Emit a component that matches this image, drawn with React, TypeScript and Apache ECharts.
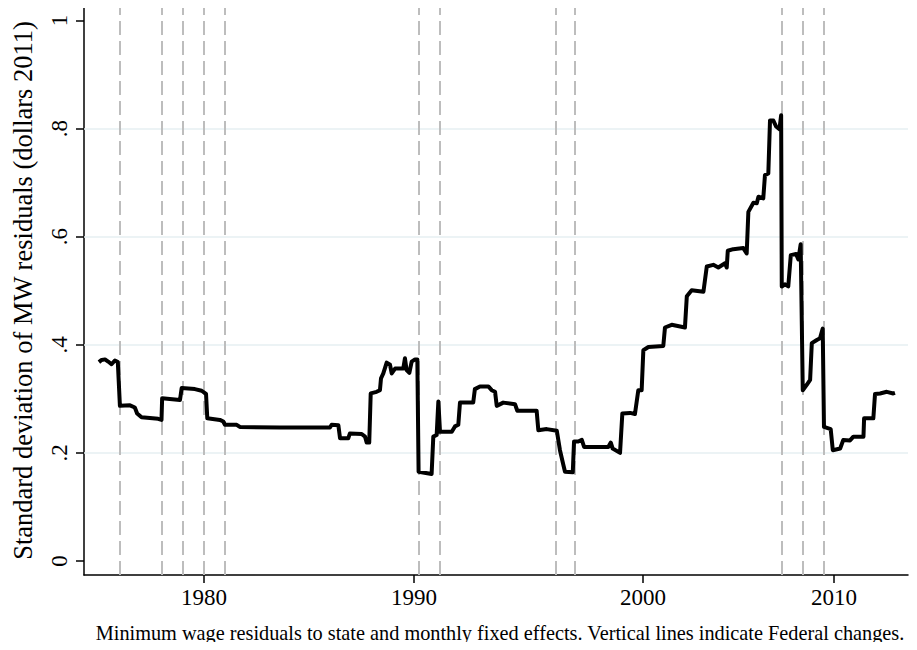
import React, { useEffect, useRef } from "react";
import * as echarts from "echarts";

// Decimal year of each breakpoint of the series
const years: number[] = [
  1975.0, 1975.13, 1975.29, 1975.44, 1975.6, 1975.76, 1975.9, 1976.0, 1976.48, 1976.71,
  1976.82, 1977.03, 1977.82, 1977.98, 1978.01, 1978.86, 1978.94, 1979.57, 1979.89, 1980.1,
  1980.16, 1980.76, 1980.92, 1981.0, 1981.56, 1981.71, 1983.62, 1986.0, 1986.08, 1986.4,
  1986.48, 1986.87, 1986.95, 1987.51, 1987.67, 1987.75, 1987.87, 1987.94, 1988.22, 1988.38,
  1988.43, 1988.54, 1988.7, 1988.86, 1988.94, 1989.1, 1989.49, 1989.57, 1989.65, 1989.78,
  1989.89, 1990.05, 1990.16, 1990.22, 1990.84, 1990.92, 1991.08, 1991.16, 1991.24, 1991.8,
  1991.95, 1992.11, 1992.19, 1992.82, 1992.9, 1993.14, 1993.54, 1993.7, 1993.86, 1993.94,
  1994.25, 1994.81, 1994.92, 1995.84, 1995.92, 1996.32, 1996.8, 1996.95, 1997.11, 1997.19,
  1997.56, 1997.62, 1997.82, 1997.99, 1998.1, 1999.25, 1999.37, 1999.46, 1999.81, 1999.92,
  2000.29, 2000.52, 2000.68, 2000.84, 2000.92, 2001.16, 2001.87, 2001.95, 2002.27, 2002.9,
  2002.99, 2003.22, 2003.78, 2003.94, 2004.25, 2004.49, 2004.81, 2004.89, 2004.94, 2005.2,
  2005.68, 2005.84, 2005.92, 2006.16, 2006.32, 2006.4, 2006.63, 2006.71, 2006.87, 2006.95,
  2007.11, 2007.24, 2007.4, 2007.48, 2007.51, 2007.67, 2007.82, 2007.94, 2008.19, 2008.3,
  2008.41, 2008.51, 2008.7, 2008.86, 2008.94, 2009.18, 2009.33, 2009.46, 2009.52, 2009.84,
  2009.94, 2010.29, 2010.44, 2010.76, 2010.92, 2011.4, 2011.43, 2011.87, 2011.95, 2012.19,
  2012.51, 2012.82, 2012.9,
];

// Standard deviation of MW residuals (dollars 2011)
const sdValues: number[] = [
  0.368, 0.372, 0.373, 0.369, 0.364, 0.371, 0.368, 0.287, 0.288, 0.284,
  0.273, 0.266, 0.263, 0.261, 0.301, 0.298, 0.32, 0.318, 0.315, 0.309,
  0.264, 0.261, 0.258, 0.252, 0.252, 0.248, 0.247, 0.247, 0.252, 0.251,
  0.227, 0.227, 0.236, 0.235, 0.23, 0.219, 0.219, 0.31, 0.313, 0.316,
  0.338, 0.347, 0.367, 0.363, 0.347, 0.356, 0.356, 0.375, 0.353, 0.348,
  0.369, 0.373, 0.373, 0.165, 0.161, 0.23, 0.233, 0.295, 0.239, 0.239,
  0.249, 0.252, 0.293, 0.293, 0.318, 0.323, 0.323, 0.316, 0.313, 0.287,
  0.293, 0.29, 0.278, 0.278, 0.242, 0.244, 0.241, 0.205, 0.178, 0.165,
  0.164, 0.221, 0.221, 0.224, 0.211, 0.211, 0.219, 0.208, 0.2, 0.273,
  0.274, 0.272, 0.316, 0.316, 0.39, 0.396, 0.398, 0.432, 0.437, 0.432,
  0.49, 0.501, 0.498, 0.545, 0.548, 0.543, 0.551, 0.543, 0.574, 0.577,
  0.579, 0.569, 0.646, 0.663, 0.662, 0.674, 0.671, 0.714, 0.717, 0.815,
  0.815, 0.804, 0.799, 0.825, 0.508, 0.512, 0.508, 0.566, 0.568, 0.558,
  0.586, 0.316, 0.326, 0.335, 0.403, 0.409, 0.412, 0.43, 0.248, 0.244,
  0.205, 0.208, 0.224, 0.223, 0.23, 0.23, 0.264, 0.264, 0.309, 0.31,
  0.313, 0.31, 0.311,
];

// Federal minimum wage changes (decimal years)
const federalChanges: number[] = [
  1976.0, 1978.0, 1979.0, 1980.0, 1981.0, 1990.25, 1991.25, 1996.75, 1997.67, 2007.5, 2008.5, 2009.5,
];

// Axis ticks
const xTickValues: number[] = [1980, 1990, 2000.9, 2010];
const xTickLabels: string[] = ["1980", "1990", "2000", "2010"];
const yTickValues: number[] = [0, 0.2, 0.4, 0.6, 0.8, 1];
const yTickLabels: string[] = ["0", ".2", ".4", ".6", ".8", "1"];
const yGridValues: number[] = [0.2, 0.4, 0.6, 0.8];

const yTitle = "Standard deviation of MW residuals (dollars 2011)";
const caption =
  "Minimum wage residuals to state and monthly fixed effects. Vertical lines indicate Federal changes.";

const FONT = "'Liberation Serif', 'Times New Roman', serif";

export default function App() {
  const ref = useRef<HTMLDivElement>(null);

  useEffect(() => {
    if (!ref.current) return;
    const chart = echarts.init(ref.current, undefined, { renderer: "svg" });

    const data = years.map((y, i) => [y, sdValues[i]]);

    const option: any = {
      animation: false,
      backgroundColor: "#ffffff",
      textStyle: { fontFamily: FONT },
      grid: { left: 84, right: 9, top: 6, bottom: 75, containLabel: false },
      xAxis: {
        type: "value",
        min: 1974.29,
        max: 2013.52,
        splitLine: { show: false },
        axisLine: { show: true, onZero: false, lineStyle: { color: "#000", width: 1.5 } },
        axisTick: {
          show: true,
          length: 8,
          customValues: xTickValues,
          lineStyle: { color: "#000", width: 1.5 },
        },
        axisLabel: {
          show: true,
          customValues: xTickValues,
          margin: 11,
          fontFamily: FONT,
          fontSize: 23,
          color: "#000",
          formatter: (v: number) => {
            const i = xTickValues.findIndex((t) => Math.abs(t - v) < 1e-6);
            return i >= 0 ? xTickLabels[i] : "";
          },
        },
      },
      yAxis: {
        type: "value",
        min: -0.026,
        max: 1.027,
        name: yTitle,
        nameLocation: "middle",
        nameGap: 48,
        nameRotate: 90,
        nameTextStyle: { fontFamily: FONT, fontSize: 26.5, color: "#000" },
        splitLine: { show: false },
        axisLine: { show: true, onZero: false, lineStyle: { color: "#000", width: 1.5 } },
        axisTick: {
          show: true,
          length: 8,
          customValues: yTickValues,
          lineStyle: { color: "#000", width: 1.5 },
        },
        axisLabel: {
          show: true,
          customValues: yTickValues,
          rotate: 90,
          margin: 13,
          fontFamily: FONT,
          fontSize: 23,
          color: "#000",
          formatter: (v: number) => {
            const i = yTickValues.findIndex((t) => Math.abs(t - v) < 1e-6);
            return i >= 0 ? yTickLabels[i] : "";
          },
        },
      },
      series: [
        {
          type: "line",
          name: "guides",
          data: [],
          z: 1,
          silent: true,
          markLine: {
            silent: true,
            symbol: "none",
            z: 1,
            label: { show: false },
            animation: false,
            data: [
              ...yGridValues.map((v) => ({
                yAxis: v,
                lineStyle: { color: "#e6eff2", width: 1.5, type: "solid" },
              })),
              ...federalChanges.map((v) => ({
                xAxis: v,
                lineStyle: { color: "#bdbdbd", width: 2, type: [14, 6] },
              })),
            ],
          },
        },
        {
          type: "line",
          name: "sd",
          data,
          z: 10,
          showSymbol: false,
          symbol: "none",
          lineStyle: { color: "#000", width: 4, join: "round" },
        },
      ],
      graphic: [
        {
          type: "text",
          x: 500,
          y: 633,
          z: 10,
          style: {
            text: caption,
            fill: "#000",
            font: `20.3px ${FONT}`,
            textAlign: "center",
            textVerticalAlign: "middle",
          },
        },
      ],
    };

    chart.setOption(option);
    return () => chart.dispose();
  }, []);

  return <div ref={ref} style={{ width: 917, height: 650, margin: -8 }} />;
}
